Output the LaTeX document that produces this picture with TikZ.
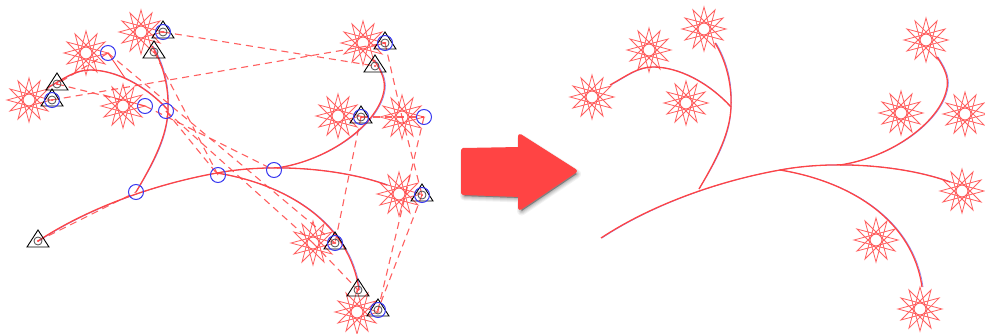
\documentclass[tikz,border=0pt]{standalone}
\definecolor{markred}{HTML}{FF4444}
\definecolor{markblue}{HTML}{3A3AF0}
\tikzset{
	curvered/.style={draw=markred, line width=1.3pt},
	curveblue/.style={draw=markblue, line width=.7pt, opacity=.6},
	linkline/.style={draw=markred, line width=1.1pt, dash pattern=on 7pt off 5pt, opacity=.85},
	starline/.style={draw=markred, line width=.8pt, opacity=.85, line join=miter},
	ringline/.style={draw=markblue, line width=1pt},
	triangleline/.style={draw=black, line width=.9pt},
	starmark/.pic={
		\draw[starline] (90:22) \foreach \k in {1,...,11} { -- ({90+\k*150}:22) } -- cycle;
	},
	trianglemark/.pic={
		\draw[triangleline] (0,-11) -- (-11,6) -- (11,6) -- cycle;
		\draw[draw=black!70, line width=.8pt] (0,0) circle (4);
		\fill[markred] (0,0) circle (1.2);
	}
}

% one tree: branches and stars, in the coordinates of the left part
\newcommand{\BranchTree}{
	\coordinate (j1) at (136,192);
	\coordinate (j2) at (217,173);
	\coordinate (j3) at (277,168);
	\coordinate (j4) at (168,110);
	\foreach \curvestyle/\dx in {curveblue/1,curvered/0} {
		\begin{scope}[xshift=\dx pt]
			\draw[\curvestyle] (38,241) .. controls (85,210) and (150,185) .. (j2);
			\draw[\curvestyle] (j2) .. controls (270,163) and (340,168) .. (387,185);
			\draw[\curvestyle] (j2) .. controls (290,185) and (350,225) .. (359,290);
			\draw[\curvestyle] (j3) .. controls (330,160) and (375,125) .. (383,95)
			.. controls (387,82) and (382,72) .. (374,60);
			\draw[\curvestyle] (j1) .. controls (155,160) and (167,135) .. (j4)
			.. controls (169,85) and (162,62) .. (152,46);
			\draw[\curvestyle] (j4) .. controls (145,85) and (115,70) .. (90,70)
			.. controls (75,70) and (65,78) .. (47,88);
		\end{scope}
	}
	\foreach \sx/\sy in {29/100,86/53,141/32,123/106,363/43,338/116,402/117,399/194,313/243,357/312} {
		\pic at (\sx,\sy) {starmark};
	}
}

\begin{document}
\begin{tikzpicture}[x=1pt, y=-1pt]

	\useasboundingbox (0,0) rectangle (985,334);

	% left part
	\begin{scope}[name prefix=l-]
		\BranchTree
	\end{scope}

	\coordinate (t1) at (38,241);
	\coordinate (t2) at (57,84);
	\coordinate (t3) at (52,100);
	\coordinate (t4) at (163,32);
	\coordinate (t5) at (154,52);
	\coordinate (t6) at (385,43);
	\coordinate (t7) at (375,66);
	\coordinate (t8) at (361,117);
	\coordinate (t9) at (422,195);
	\coordinate (t10) at (335,243);
	\coordinate (t11) at (358,290);
	\coordinate (t12) at (378,310);

	\coordinate (c1) at (108,53);
	\coordinate (c2) at (145,106);
	\coordinate (c3) at (166,111);
	\coordinate (c4) at (424,117);
	\coordinate (c5) at (136,192);
	\coordinate (c6) at (218,175);
	\coordinate (c7) at (274,170);

	\coordinate (s4) at (313,243);
	\coordinate (s7) at (402,117);
	\coordinate (e1) at (125,78);

	% links between marks
	\foreach \from/\to in {t4/t7, t3/t6, c1/t2, t2/c2, c2/c7, c1/t10, c3/s4, s4/t11, t5/c6, c3/c6,
		t8/t10, t6/s7, t8/c4, c4/t12, s7/t9, t9/t12, t1/c5} {
		\draw[linkline] (\from) -- (\to);
	}
	\draw[draw=markred, line width=.9pt] (c1) -- (e1);

	\foreach \m in {t1,t2,t3,t4,t5,t6,t7,t8,t9,t10,t11,t12} {
		\pic at (\m) {trianglemark};
	}
	\foreach \m in {t3,t4,t6,t8,t9,t10,t12,c1,c2,c3,c4,c5,c6,c7} {
		\draw[ringline] (\m) circle (7.5);
	}

	% arrow
	\foreach \w/\op in {9/.05,7/.06,5/.07,3/.08,1/.1} {
		\draw[black, opacity=\op, fill, line width=\w pt, line join=round, xshift=1.5pt, yshift=-3pt]
		(463,150) -- (520,149) -- (520,136) -- (575,171) -- (520,208) -- (520,195) -- (463,193) -- cycle;
	}
	\draw[fill=markred, draw=markred, line width=4pt, line join=round]
	(463,150) -- (520,149) -- (520,136) -- (575,171) -- (520,208) -- (520,195) -- (463,193) -- cycle;

	% right part
	\begin{scope}[name prefix=r-, shift={(563,-3)}]
		\BranchTree
	\end{scope}

\end{tikzpicture}
\end{document}
